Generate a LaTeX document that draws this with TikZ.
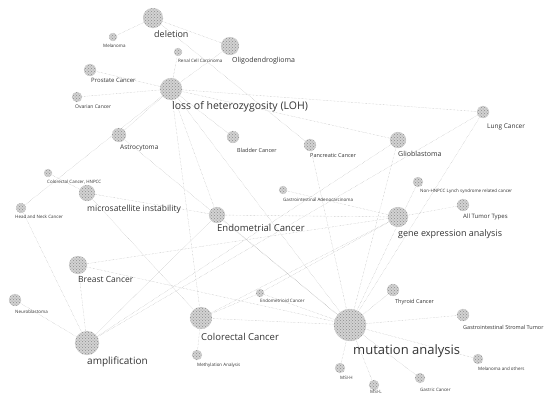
\documentclass[tikz,border=0pt]{standalone}
\usepackage{fontspec}
\setmainfont{Open Sans}
\usetikzlibrary{backgrounds,patterns}

\begin{document}
\begin{tikzpicture}[x=1pt,y=-1pt,
    blob/.style={circle,inner sep=0pt,minimum size=#1,fill=gray!35,draw=gray!50,densely dotted,
      postaction={pattern=crosshatch dots,pattern color=gray!90}},
    link/.style={gray!60,densely dotted,line width=0.4pt},
    lbl/.style={anchor=west,inner sep=0pt,text=black!80}]
  \useasboundingbox (0,0) rectangle (556,397);
  \foreach \n/\x/\y/\r/\lx/\ly/\fs/\t in {
      del/153/18/10/154/34/9/deletion,
      mel/113/37/4/103/46/4.5/Melanoma,
      rcc/178/52/4/178/61/4.5/Renal Cell Carcinoma,
      oligo/230/46/9/232/61/7/Oligodendroglioma,
      pro/90/70/6/91/80/6/Prostate Cancer,
      ova/77/97/5/75/107/5/Ovarian Cancer,
      loh/171/89/11/172/107/10.5/loss of heterozygosity (LOH),
      lung/483/112/6/487/127/6.5/Lung Cancer,
      astro/119/135/7/120/148/6.5/Astrocytoma,
      blad/233/137/6/237/150/5.5/Bladder Cancer,
      panc/310/145/6/310/156/5.5/Pancreatic Cancer,
      glio/398/140/8/398/154/7/Glioblastoma,
      hnpcc/48/173/4/47/182/4.5/{Colorectal Cancer, HNPCC},
      msi/87/193/8/87/209/8.5/microsatellite instability,
      hn/21/208/5/15/217/4.5/Head and Neck Cancer,
      endo/217/215/8/217/228/9.5/Endometrial Cancer,
      gia/283/190/4/283/200/4.5/Gastrointestinal Adenocarcinoma,
      nonh/418/182/5/420/191/4.5/Non-HNPCC Lynch syndrome related cancer,
      all/463/205/6/463/217/6/All Tumor Types,
      gea/398/217/10/398/234/9/gene expression analysis,
      brca/78/265/9/78/279/8.5/Breast Cancer,
      neuro/15/300/6/15/312/4.5/Neuroblastoma,
      amp/87/343/12/87/362/10/amplification,
      col/201/318/11/201/337/9.5/Colorectal Cancer,
      meth/197/355/5/197/365/4.5/Methylation Analysis,
      endoid/260/293/4/260/301/4.5/Endometrioid Cancer,
      mut/350/325/16/353/351/13/mutation analysis,
      thy/393/290/6/395/302/5.5/Thyroid Cancer,
      gist/463/315/6/463/327/5.5/Gastrointestinal Stromal Tumor,
      melo/478/359/5/478/369/4.5/Melanoma and others,
      gas/420/378/5/420/390/4.5/Gastric Cancer,
      msih/340/368/5/340/378/4.5/MSI-H,
      msil/374/385/5/370/392/4.5/MSI-L} {
    \node[blob=2*\r] (\n) at (\x,\y) {};
    \node[lbl,font=\fontsize{\fs}{\fs}\selectfont] (\n-t) at (\lx,\ly) {\t};
  }
  \begin{scope}[on background layer]
    \foreach \a/\b in {del/mel,del/oligo,del/panc,loh/oligo,loh/rcc,loh/pro,loh/ova,
        loh/lung,loh/glio,loh/blad,loh/astro,loh/hn,loh/col,loh/endo,loh/mut,
        msi/hnpcc,msi/endo,msi/col,amp/brca,amp/neuro,amp/hn,amp/endo,amp/glio,amp/lung,
        mut/lung,mut/glio,mut/panc,mut/astro,mut/nonh,mut/thy,mut/gist,mut/melo,mut/gas,
        mut/msih,mut/msil,mut/col,mut/brca,mut/endo,mut/endoid,
        gea/gia,gea/endo,gea/all,gea/col,gea/brca,gea/endoid,col/meth,col/endoid}
      \draw[link] (\a) -- (\b);
  \end{scope}
\end{tikzpicture}
\end{document}
